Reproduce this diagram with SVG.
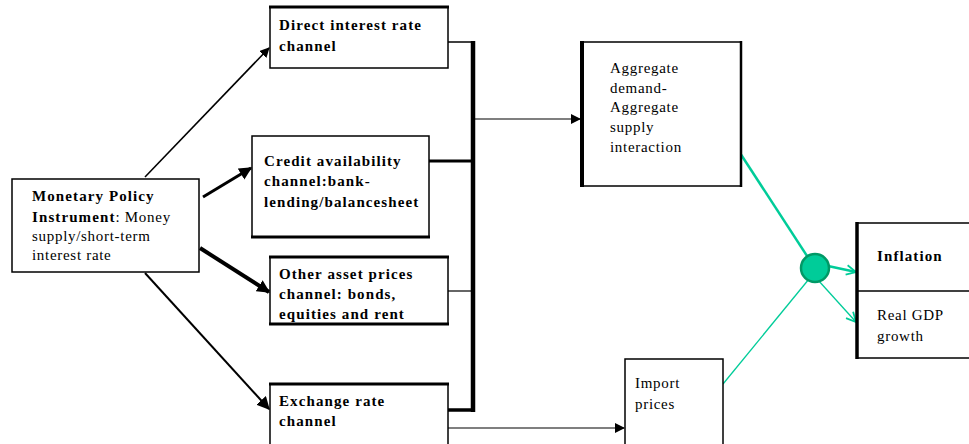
<svg xmlns="http://www.w3.org/2000/svg" width="969" height="444" viewBox="0 0 969 444">
<style>
text{font-family:"Liberation Serif","Times New Roman",serif;font-size:15px;fill:#000}
.b{font-weight:bold;letter-spacing:1.1px}
.n{letter-spacing:0.7px}
.box{fill:#fff;stroke:#000;stroke-width:1.5}
.k{stroke:#000;fill:none}
.g{stroke:#00CC99;fill:none}
</style>
<defs>
<marker id="ah" viewBox="0 0 10 10" refX="9" refY="5" markerWidth="10" markerHeight="10" markerUnits="userSpaceOnUse" orient="auto"><path d="M0,0L10,5L0,10z" fill="#000"/></marker>
<marker id="ahb" viewBox="0 0 10 10" refX="9" refY="5" markerWidth="13" markerHeight="13" markerUnits="userSpaceOnUse" orient="auto"><path d="M0,0L10,5L0,10z" fill="#000"/></marker>
<marker id="ahg" viewBox="0 0 10 10" refX="9" refY="5" markerWidth="12" markerHeight="12" markerUnits="userSpaceOnUse" orient="auto"><path d="M1,1L9,5L1,9" fill="none" stroke="#00CC99" stroke-width="1.5"/></marker>
</defs>
<rect width="969" height="444" fill="#fff"/>

<g id="connectors">
<line class="k" x1="145" y1="177" x2="269" y2="48" stroke-width="1.6" marker-end="url(#ah)"/>
<line class="k" x1="203" y1="197" x2="251" y2="168" stroke-width="3" marker-end="url(#ahb)"/>
<line class="k" x1="200" y1="248" x2="269" y2="292" stroke-width="4" marker-end="url(#ahb)"/>
<line class="k" x1="145" y1="273" x2="269" y2="409" stroke-width="2" marker-end="url(#ahb)"/>
<polyline class="k" points="448,42 473,42" stroke-width="1.5"/>
<line class="k" x1="473" y1="41" x2="473" y2="412" stroke-width="4.5"/>
<line class="k" x1="429" y1="161" x2="473" y2="161" stroke-width="3"/>
<line class="k" x1="448" y1="291" x2="473" y2="291" stroke-width="1.2"/>
<line class="k" x1="448" y1="410" x2="475" y2="410" stroke-width="3.5"/>
<line class="k" x1="475" y1="119" x2="580" y2="119" stroke-width="1.2" marker-end="url(#ah)"/>
<line x1="448" y1="428" x2="624" y2="428" stroke="#555" stroke-width="1.5" marker-end="url(#ah)"/>
<line class="g" x1="740" y1="153" x2="809" y2="259" stroke-width="2.5"/>
<line class="g" x1="723" y1="384" x2="809" y2="279" stroke-width="1.3"/>
<line class="g" x1="828" y1="266" x2="856" y2="272" stroke-width="2.5" marker-end="url(#ahg)"/>
<line class="g" x1="818" y1="280" x2="856" y2="322" stroke-width="1.3" marker-end="url(#ahg)"/>
<circle cx="815" cy="268" r="14" fill="#00CC99" stroke="#009966" stroke-width="2.5"/>
</g>

<g id="monetary">
<rect class="box" x="12" y="179" width="187" height="93" stroke-width="3.5"/>
<text x="32" y="201"><tspan class="b">Monetary Policy</tspan></text>
<text x="32" y="222"><tspan class="b">Instrument</tspan><tspan class="n">: Money</tspan></text>
<text class="n" x="32" y="241">supply/short-term</text>
<text class="n" x="32" y="260">interest rate</text>
</g>

<g id="direct">
<rect class="box" x="270" y="7" width="178" height="61"/>
<line class="k" x1="269" y1="7" x2="449" y2="7" stroke-width="3"/>
<text class="b" x="279" y="30">Direct interest rate</text>
<text class="b" x="279" y="51">channel</text>
</g>

<g id="credit">
<rect class="box" x="252" y="136" width="177" height="101"/>
<line class="k" x1="251" y1="237" x2="430" y2="237" stroke-width="3"/>
<text class="b" x="264" y="166">Credit availability</text>
<text class="b" x="264" y="186">channel:bank-</text>
<text class="b" x="264" y="207">lending/balancesheet</text>
</g>

<g id="other">
<rect class="box" x="270" y="257" width="178" height="67"/>
<line class="k" x1="269" y1="257" x2="449" y2="257" stroke-width="3"/>
<line class="k" x1="269" y1="324" x2="449" y2="324" stroke-width="3"/>
<text class="b" x="279" y="279">Other asset prices</text>
<text class="b" x="279" y="299">channel: bonds,</text>
<text class="b" x="279" y="319">equities and rent</text>
</g>

<g id="exchange">
<rect class="box" x="270" y="384" width="178" height="70"/>
<line class="k" x1="269" y1="384" x2="449" y2="384" stroke-width="3"/>
<text class="b" x="279" y="406">Exchange rate</text>
<text class="b" x="279" y="426">channel</text>
</g>

<g id="aggregate">
<rect class="box" x="581" y="42" width="160" height="144"/>
<line class="k" x1="582" y1="41" x2="582" y2="187" stroke-width="4"/>
<line class="k" x1="741" y1="41" x2="741" y2="187" stroke-width="2.5"/>
<text class="n" x="610" y="73">Aggregate</text>
<text class="n" x="610" y="93">demand-</text>
<text class="n" x="610" y="112">Aggregate</text>
<text class="n" x="610" y="132">supply</text>
<text class="n" x="610" y="152">interaction</text>
</g>

<g id="import">
<rect class="box" x="625" y="359" width="98" height="95"/>
<text class="n" x="635" y="388">Import</text>
<text class="n" x="635" y="409">prices</text>
</g>

<g id="outcomes">
<rect class="box" x="857" y="223" width="120" height="135"/>
<line class="k" x1="857" y1="222" x2="857" y2="359" stroke-width="3.5"/>
<line class="k" x1="857" y1="291" x2="969" y2="291" stroke-width="1.5"/>
<text class="b" x="877" y="261">Inflation</text>
<text class="n" x="877" y="320">Real GDP</text>
<text class="n" x="877" y="341">growth</text>
</g>
</svg>
